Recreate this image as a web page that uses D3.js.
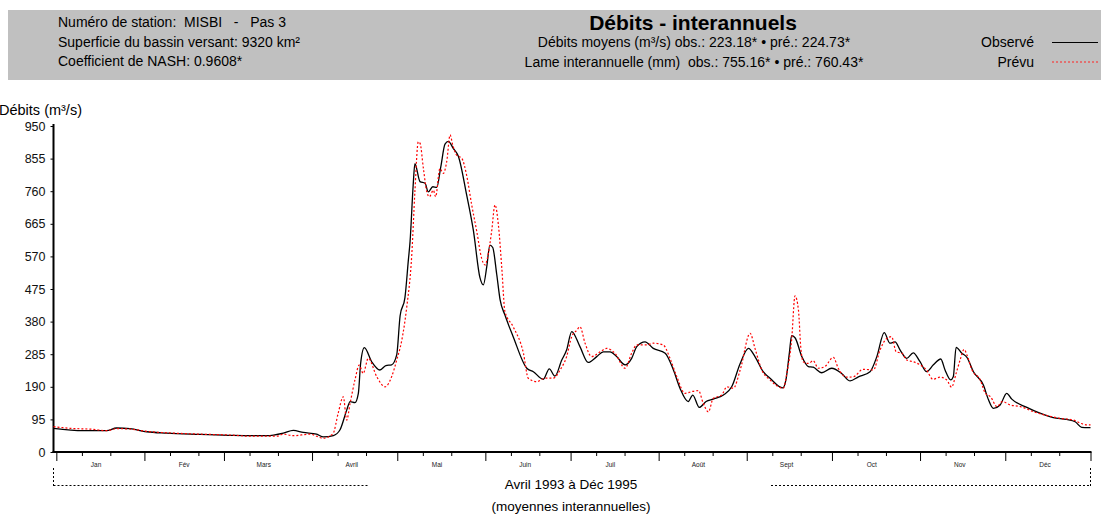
<!DOCTYPE html>
<html>
<head>
<meta charset="utf-8">
<script src="https://cdn.jsdelivr.net/npm/d3@7"></script>
<style>
  html, body { margin: 0; padding: 0; background: #fff; }
  svg { display: block; font-family: "Liberation Sans", Arial, sans-serif; }
</style>
</head>
<body>
<svg id="chart" width="1105" height="514"></svg>
<script>
// Mean interannual daily discharge (m³/s), day-of-year positions
const joursObs = [0, 10.5, 18.7, 22.2, 26.9, 32.8, 39.8, 51.6, 63.2, 75, 80.9, 84.4, 87.9, 92.6, 95, 98.5,
  100.8, 103.2, 104.4, 106.1, 107.3, 108.1, 109.4, 112, 114.9, 117, 119, 120.8, 122, 123.7, 124.9, 125.5,
  126.6, 127.2, 129, 130.8, 131.9, 133.5, 134.9, 136.3, 137.8, 139, 140.7, 142.5, 145.4, 147.8, 150.1,
  151.3, 152.5, 153.6, 154.6, 156, 157.2, 158.9, 161.8, 166.6, 168.9, 172.4, 174.5, 176.5, 178.9, 180.6,
  182.4, 185.3, 188.2, 191.2, 193.5, 195.9, 198.2, 201.2, 203.5, 205.3, 208.2, 211.1, 215.3, 218.2, 220.5,
  223.4, 225, 227.3, 229.7, 232.2, 235.8, 238.7, 241.7, 244.6, 246.9, 249.8, 252.2, 256.7, 257.8, 259,
  259.8, 261, 263.4, 265.7, 267.4, 270.4, 273.9, 277.4, 280.4, 283.3, 287.4, 289.8, 292.4, 294.4, 296.2,
  298, 300.3, 302.6, 305, 307.3, 309.7, 312.3, 313.8, 315.8, 316.7, 317.7, 319.7, 321.5, 323.8, 327.3,
  329.1, 330.8, 333.2, 335.5, 337.3, 342.6, 347.2, 351.9, 356.6, 359.6, 361.9, 364.2, 365];
const debitsObs = [69, 62, 62, 70, 68, 59, 55, 51.5, 48.5, 47.5, 55, 63, 57, 52, 44, 48,
  64, 122, 147, 144, 171, 258, 304, 263, 239, 252, 254, 283, 397, 450, 559, 613,
  778, 840, 788, 783, 758, 773, 771, 830, 897, 905, 885, 862, 750, 645, 508,
  487, 540, 603, 596, 518, 443, 399, 336, 244, 234, 212, 242, 221, 268, 297,
  351, 307, 261, 278, 292, 292, 278, 254, 273, 307, 321, 302, 288, 239, 186,
  147, 166, 130, 147, 154, 166, 190, 258, 302, 278, 234, 215, 187, 210, 288,
  339, 333, 278, 249, 247, 231, 244, 229, 207, 219, 234, 278, 348, 317, 321,
  297, 273, 289, 263, 234, 254, 271, 239, 210, 219, 305, 288, 276, 234, 195,
  152, 127, 137, 171, 154, 130, 113, 100, 95, 88, 72, 71, 71];

const joursPrev = [0, 5.8, 14, 18.7, 22.2, 26.9, 32.8, 39.8, 51.6, 63.2, 69.2, 78.7, 80.9, 84.3, 90.3, 94.9,
  98.4, 100.2, 102, 103.2, 104.4, 106.1, 107.6, 109, 110.8, 113.8, 116.7, 119, 120.8, 122.6, 124.3, 126.1,
  127.2, 128.4, 129, 130.2, 131.4, 132.3, 133.7, 134.5, 136, 137.2, 138.4, 139.6, 140.5, 141.9, 143.7,
  145.4, 147.2, 149, 150.7, 151.9, 152.7, 154.2, 155.4, 156.6, 157.8, 158.9, 161.8, 165.4, 167.1, 170.1,
  173, 175.9, 178.3, 180.6, 182.4, 184.2, 185.3, 187.1, 189.4, 192.4, 194.7, 197.6, 201.2, 203.5, 205.3,
  208.8, 211.1, 214.6, 217, 219.4, 222.3, 224.6, 227, 228.7, 230.5, 232.2, 235.2, 237, 239.3, 241.7,
  245.2, 246.9, 249.3, 252.2, 256.9, 258.1, 259.8, 261, 262.2, 263, 263.9, 265.7, 267.4, 269.2, 271.5,
  274.5, 276.2, 279.2, 281.5, 285, 288.6, 290.9, 293.3, 295, 296.6, 298.6, 300.3, 302.6, 305, 307.3,
  309.5, 312, 314.4, 316.1, 317.7, 319.1, 320.5, 321.5, 323.3, 326.2, 328, 329.8, 332.1, 333.9, 336.8,
  340.4, 345.1, 349.8, 354.3, 359, 361.4, 363.7, 365];
const debitsPrev = [74, 69, 66, 62, 68, 67, 60, 56, 52, 49, 46, 46, 52, 47.5, 52, 40,
  54, 113, 161, 93, 142, 210, 253, 229, 273, 219, 190, 219, 268, 326, 420, 574,
  758, 904, 900, 826, 758, 744, 763, 744, 826, 812, 846, 924, 895, 865, 856,
  807, 720, 642, 564, 545, 564, 642, 720, 661, 535, 409, 365, 288, 215, 205,
  215, 215, 239, 278, 336, 355, 365, 317, 278, 292, 302, 288, 244, 288, 312,
  312, 317, 312, 273, 219, 171, 176, 179, 142, 117, 156, 166, 190, 186, 239,
  346, 302, 239, 210, 186, 229, 326, 455, 414, 307, 263, 258, 266, 244, 249,
  276, 244, 218, 219, 241, 239, 297, 331, 336, 292, 288, 268, 263, 254, 239,
  212, 218, 210, 189, 229, 268, 299, 283, 239, 210, 171, 161, 132, 147, 137,
  132, 117, 106, 98, 93, 84, 79, 79];

const yTicks = [0, 95, 190, 285, 380, 475, 570, 665, 760, 855, 950];
const mois = ["Jan", "Fév", "Mars", "Avril", "Mai", "Juin", "Juil", "Août", "Sept", "Oct", "Nov", "Déc"];
const debutMois = [0, 31, 59, 90, 120, 151, 181, 212, 243, 273, 304, 334];

const enTete = [
  "Numéro de station:  MISBI   -   Pas 3",
  "Superficie du bassin versant: 9320 km²",
  "Coefficient de NASH: 0.9608*"
];
const titre = "Débits - interannuels";
const resume = [
  "Débits moyens (m³/s) obs.: 223.18* • pré.: 224.73*",
  "Lame interannuelle (mm)  obs.: 755.16* • pré.: 760.43*"
];

const svg = d3.select("#chart");
const gauche = 53.5, droite = 1090.5, haut = 126, bas = 452;

const x = d3.scaleLinear().domain([0, 365]).range([gauche, droite]);
const y = d3.scaleLinear().domain([0, 950]).range([bas, haut]);

// Header band
svg.append("rect").attr("x", 8).attr("y", 10).attr("width", 1093).attr("height", 70).attr("fill", "#c0c0c0");
svg.append("g").selectAll("text").data(enTete).join("text")
  .attr("x", 58).attr("y", (d, i) => 27 + i * 19.5)
  .attr("font-size", 14).attr("fill", "#000")
  .style("white-space", "pre").text(d => d);
svg.append("text").attr("x", 693).attr("y", 29.5).attr("text-anchor", "middle")
  .attr("font-size", 21).attr("font-weight", "bold").text(titre);
svg.append("g").selectAll("text").data(resume).join("text")
  .attr("x", 694).attr("y", (d, i) => 47 + i * 19.5).attr("text-anchor", "middle")
  .style("white-space", "pre").attr("font-size", 14).text(d => d);

// Legend
const legende = [{ nom: "Observé", couleur: "#000000", tirets: null }, { nom: "Prévu", couleur: "#ff2020", tirets: "2,2" }];
const lg = svg.append("g").selectAll("g").data(legende).join("g")
  .attr("transform", (d, i) => `translate(0,${42 + i * 19.5})`);
lg.append("text").attr("x", 1034).attr("y", 5).attr("text-anchor", "end").attr("font-size", 14).text(d => d.nom);
lg.append("line").attr("x1", 1052).attr("x2", 1098).attr("y1", 0.5).attr("y2", 0.5)
  .style("stroke", d => d.couleur).attr("stroke-width", 1.2)
  .attr("stroke-dasharray", d => d.tirets);

// Y axis
const yAxis = d3.axisLeft(y).tickValues(yTicks).tickSize(3).tickPadding(5).tickFormat(d3.format("d"));
const gy = svg.append("g").attr("transform", `translate(${gauche},0)`).call(yAxis);
gy.select(".domain").remove();
gy.selectAll("text").attr("font-size", 12.5).attr("fill", "#111").attr("font-family", "Liberation Sans, Arial, sans-serif");
svg.append("text").attr("x", -1).attr("y", 115).attr("font-size", 14.5).text("Débits (m³/s)");

// X axis: month boundaries and 10-day marks
const gxMaj = svg.append("g").attr("transform", `translate(0,${bas})`)
  .call(d3.axisBottom(x).tickValues(debutMois.map(d => d + 1).concat([365])).tickSize(9).tickFormat(""));
gxMaj.select(".domain").remove();
const mineurs = [];
debutMois.forEach(d => { mineurs.push(d + 10, d + 20); });
const gxMin = svg.append("g").attr("transform", `translate(0,${bas})`)
  .call(d3.axisBottom(x).tickValues(mineurs).tickSize(4).tickFormat(""));
gxMin.select(".domain").remove();
svg.append("g").selectAll("text").data(mois).join("text")
  .attr("x", (d, i) => x(debutMois[i] + 15)).attr("y", 467).attr("text-anchor", "middle")
  .attr("font-size", 6.5).attr("fill", "#222").text(d => d);

// Axis lines
svg.append("line").attr("x1", gauche).attr("x2", gauche).attr("y1", haut - 2).attr("y2", bas + 1)
  .attr("stroke", "#000").attr("stroke-width", 2);
svg.append("line").attr("x1", gauche - 1).attr("x2", droite + 1).attr("y1", bas).attr("y2", bas)
  .attr("stroke", "#000").attr("stroke-width", 2);

// Period bracket below the axis
const br = svg.append("g").attr("stroke", "#000").attr("stroke-width", 1).attr("stroke-dasharray", "2,2");
br.append("line").attr("x1", gauche).attr("x2", gauche).attr("y1", 468).attr("y2", 486);
br.append("line").attr("x1", gauche).attr("x2", 368).attr("y1", 485.5).attr("y2", 485.5);
br.append("line").attr("x1", 771).attr("x2", droite).attr("y1", 485.5).attr("y2", 485.5);
br.append("line").attr("x1", droite).attr("x2", droite).attr("y1", 468).attr("y2", 486);
svg.append("text").attr("x", 571).attr("y", 489).attr("text-anchor", "middle").attr("font-size", 13.5).text("Avril 1993 à Déc 1995");
svg.append("text").attr("x", 571).attr("y", 511).attr("text-anchor", "middle").attr("font-size", 13.5).text("(moyennes interannuelles)");

// Series
const ligne = d3.line().x(d => x(d[0])).y(d => y(d[1])).curve(d3.curveMonotoneX);
svg.append("path").datum(d3.zip(joursObs, debitsObs)).attr("d", ligne)
  .attr("fill", "none").attr("stroke", "#000").attr("stroke-width", 1.3);
svg.append("path").datum(d3.zip(joursPrev, debitsPrev)).attr("d", ligne)
  .attr("fill", "none").attr("stroke", "#ff0000").attr("stroke-width", 1.2).attr("stroke-dasharray", "2,2");
</script>
</body>
</html>
